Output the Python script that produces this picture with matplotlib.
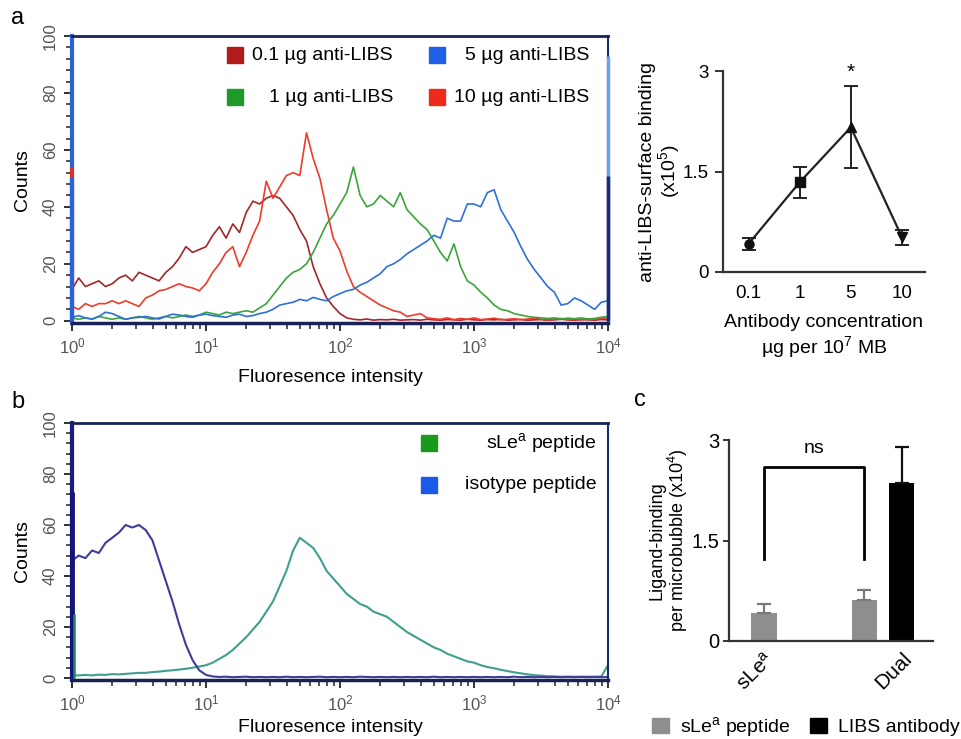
import numpy as np
import matplotlib
matplotlib.use("Agg")
import matplotlib.pyplot as plt
from matplotlib.patches import Patch
from matplotlib.ticker import MultipleLocator, LogLocator, NullFormatter

plt.rcParams["font.family"] = ["Liberation Sans", "DejaVu Sans"]
plt.rcParams["mathtext.fontset"] = "custom"
plt.rcParams["mathtext.rm"] = "Liberation Sans"
plt.rcParams["mathtext.it"] = "Liberation Sans"

# histogram channels, in decades (10^0 .. 10^4)
decades = np.round(np.arange(0, 4.0001, 0.05), 2)

# panel a: counts per channel
a_01ug = [11, 15, 12, 13, 14, 12, 13, 15, 16, 14,
          17, 16, 15, 14, 17, 19, 22, 26, 24, 25,
          26, 30, 33, 29, 34, 31, 38, 42, 41, 43,
          44, 43, 40, 37, 32, 28, 19, 13, 8, 5,
          2.5, 1, 0.5, 0.3, 0.6, 0.2, 0.4, 0.3, 0.5, 0.2,
          0.3, 0.4, 0.2, 0.5, 0.3, 0.2, 0.4, 0.3, 0.2, 0.5,
          0.3, 0.2, 0.4, 0.3, 0.5, 0.2, 0.3, 0.4, 0.2, 0.3,
          0.4, 0.2, 0.3, 0.5, 0.3, 0.2, 0.4, 0.3, 0.2, 0.4,
          0.3]
a_10ug = [5, 4, 6, 5, 6, 6, 7, 6, 7, 6,
          5, 8, 9, 10.5, 11, 12, 13, 12, 11.5, 10.5,
          13, 17, 20, 24, 26, 19, 24, 30, 35, 49,
          43, 47, 51, 52, 51, 66, 57, 50, 39, 29,
          24.5, 17.5, 12, 10, 8.5, 7, 5.5, 4.5, 3.5, 3,
          1.5, 2, 2.5, 1, 0.7, 0.5, 1, 0.4, 0.8, 0.5,
          1, 0.4, 0.6, 0.9, 0.3, 0.5, 0.7, 0.4, 0.6, 1,
          0.5, 0.3, 0.6, 0.8, 0.4, 0.5, 0.3, 0.7, 0.5, 0.8,
          1]
a_1ug = [1, 0.5, 1, 0.5, 1.5, 1, 0.5, 1, 0.5, 1,
         1.5, 1, 0.5, 1, 1.5, 1, 1.5, 2, 1.5, 2,
         3, 2.5, 2, 3, 2.5, 3, 3.5, 3, 4.5, 6,
         9, 12, 15, 17, 18, 20, 24, 29, 34, 37,
         41, 45, 54, 44, 40, 41, 44, 42, 40, 45,
         39, 36.5, 34, 32, 28, 24, 21, 27, 19, 14,
         12.5, 10, 8, 5.5, 4, 3.5, 2.5, 2, 1.5, 1.2,
         1, 0.8, 1, 0.6, 0.9, 0.7, 1, 0.6, 0.8, 1.2,
         1.5]
a_5ug = [1.2, 1.8, 1, 0.6, 1.5, 3, 2.5, 1.5, 0.5, 1,
         1.2, 1.5, 1, 0.6, 1.5, 2.3, 2, 1.5, 1.2, 2,
         2.3, 1.8, 1.5, 1.2, 2, 2.3, 1.5, 1.8, 2.5, 3,
         4, 5.5, 6, 6.5, 7.5, 7, 8.2, 7.5, 7, 8.5,
         9.5, 10.5, 11, 12.5, 13.5, 15, 16.5, 19, 20, 21.5,
         23.5, 25, 26.5, 28, 30, 29, 36, 35, 35, 41,
         41, 40, 45, 46, 39, 35, 31, 26, 21.5, 18,
         15, 12, 10, 5.5, 6, 8, 7, 5.5, 4, 6.5,
         7]

# panel b: counts per channel
b_isotype = [46, 48, 47, 50, 49, 53, 55, 57, 60, 59,
             60, 58, 54, 46, 38, 30, 21, 13, 7, 3,
             1.2, 0.6, 0.4, 0.5, 0.3, 0.4, 0.5, 0.3, 0.4, 0.3,
             0.4, 0.3, 0.5, 0.3, 0.4, 0.3, 0.4, 0.5, 0.3, 0.4,
             0.3, 0.4, 0.3, 0.5, 0.4, 0.3, 0.4, 0.3, 0.4, 0.3,
             0.4, 0.3, 0.4, 0.3, 0.5, 0.3, 0.4, 0.3, 0.4, 0.3,
             0.4, 0.3, 0.4, 0.3, 0.4, 0.3, 0.5, 0.3, 0.4, 0.3,
             0.4, 0.3, 0.4, 0.3, 0.4, 0.3, 0.4, 0.3, 0.4, 0.3,
             0.4]
b_slea = [1.0, 1.0, 1.2, 1.0, 1.3, 1.2, 1.5, 1.4, 1.6, 1.8,
          2.0, 2.0, 2.3, 2.5, 2.8, 3.0, 3.3, 3.6, 4.0, 4.5,
          5.0, 6.0, 7.5, 9.0, 11, 13.5, 16, 19, 22, 26,
          30, 36, 42, 50, 55, 53, 51, 47, 42, 39,
          36, 33, 31, 29, 28, 26, 25, 24, 22, 20,
          18, 16.5, 15, 13.5, 12, 11, 9.5, 8.5, 7.5, 6.5,
          6, 5, 4.3, 3.8, 3.2, 2.7, 2.2, 1.8, 1.4, 1.1,
          0.9, 0.7, 0.6, 0.5, 0.5, 0.5, 0.5, 0.5, 0.5, 0.6,
          5]

# overflow bins drawn on the axis edges
a_first_bin = {"10ug": 54, "5ug": 50}
a_last_bin_5ug = 93
b_first_bin = {"isotype": 73, "slea": 25}

# panel a, right: binding vs concentration
conc_labels = ["0.1", "1", "5", "10"]
binding = [0.42, 1.34, 2.16, 0.52]
binding_err = [0.09, 0.23, 0.61, 0.11]
binding_markers = ["o", "s", "^", "v"]

# panel c
groups = ["sLe$^a$", "Dual"]
slea_binding = [0.42, 0.61]
slea_err = [0.13, 0.15]
libs_binding = [np.nan, 2.36]
libs_err = [0.0, 0.54]
bracket_top = 2.59
bracket_base = 1.22

W, H = 962, 739
fig = plt.figure(figsize=(W / 100, H / 100), dpi=100)


def box(l, t, r, b):
    return [l / W, 1 - b / H, (r - l) / W, (b - t) / H]


def style_hist(ax, left_color):
    ax.set_xscale("log")
    ax.set_xlim(1, 1e4)
    ax.set_ylim(-0.8, 100)
    ax.yaxis.set_major_locator(MultipleLocator(20))
    ax.yaxis.set_minor_locator(MultipleLocator(4))
    ax.xaxis.set_major_locator(LogLocator(base=10, numticks=10))
    ax.xaxis.set_minor_locator(LogLocator(base=10, subs=np.arange(2, 10), numticks=10))
    ax.xaxis.set_minor_formatter(NullFormatter())
    ax.tick_params(axis="both", which="major", direction="out", length=6, width=1.3,
                   labelsize=12, labelcolor="#555555", color="#222222", pad=4)
    ax.tick_params(axis="both", which="minor", direction="out", length=4, width=1.1,
                   color="#222222")
    for lab in ax.get_yticklabels():
        lab.set_rotation(90)
        lab.set_va("center")
    ax.spines["top"].set_color("#1a2255")
    ax.spines["top"].set_linewidth(2)
    ax.spines["bottom"].set_color("#1a2255")
    ax.spines["bottom"].set_linewidth(2.5)
    ax.spines["right"].set_color("#1a2a6a")
    ax.spines["right"].set_linewidth(1.5)
    ax.spines["left"].set_color(left_color)
    ax.spines["left"].set_linewidth(3)


x = 10 ** decades

# ---- panel a histogram
ax_a = fig.add_axes(box(72, 36, 608, 323))
style_hist(ax_a, "#2a62d8")
ax_a.plot(x, a_01ug, color="#a3262a", lw=1.2)
ax_a.plot(x, a_10ug, color="#ee3b2b", lw=1.2)
ax_a.plot(x, a_1ug, color="#3aa53a", lw=1.2)
ax_a.plot(x, a_5ug, color="#2e6fd8", lw=1.2)
ax_a.vlines(1, 0, a_first_bin["10ug"], color="#e0302a", lw=3, clip_on=False, zorder=5)
ax_a.vlines(1, 0, a_first_bin["5ug"], color="#2a62d8", lw=3, clip_on=False, zorder=6)
ax_a.vlines(1e4, 0, a_last_bin_5ug, color="#6aa2ee", lw=2.5, clip_on=False, zorder=5)
ax_a.vlines(1e4, 0, 51, color="#1a2a6a", lw=2.5, clip_on=False, zorder=6)

legend_a = [("0.1 µg anti-LIBS", "#b01c1c", 0.304, 0.599, 0.933),
            ("5 µg anti-LIBS", "#1f5fe8", 0.681, 0.965, 0.933),
            ("1 µg anti-LIBS", "#1f9a2a", 0.304, 0.599, 0.786),
            ("10 µg anti-LIBS", "#ee2a1a", 0.681, 0.965, 0.786)]
for label, color, xs, xt, yy in legend_a:
    ax_a.plot(xs, yy, marker="s", ms=12, color=color, transform=ax_a.transAxes)
    ax_a.text(xt, yy, label, transform=ax_a.transAxes, ha="right", va="center",
              fontsize=14)

# ---- panel b histogram
ax_b = fig.add_axes(box(72, 423, 608, 680))
style_hist(ax_b, "#1a1a80")
ax_b.plot(x, b_slea, color="#3f9f8f", lw=1.5)
ax_b.plot(x, b_isotype, color="#3d3d99", lw=1.5)
ax_b.vlines(1, 0, b_first_bin["isotype"], color="#14147a", lw=3.5, clip_on=False, zorder=5)
ax_b.vlines(1.03, 0, b_first_bin["slea"], color="#1a8a5a", lw=1.8, clip_on=False, zorder=6)

legend_b = [("sLe$^a$ peptide", "#1a9a1a", 0.921), ("isotype peptide", "#1a5ae8", 0.76)]
for label, color, yy in legend_b:
    ax_b.plot(0.666, yy, marker="s", ms=12, color=color, transform=ax_b.transAxes)
    ax_b.text(0.978, yy, label, transform=ax_b.transAxes, ha="right", va="center",
              fontsize=14)

for ymid, ylab in [(180, 378), (551, 728)]:
    fig.text(22 / W, 1 - ymid / H, "Counts", rotation=90, ha="center", va="center",
             fontsize=14)
    fig.text(330 / W, 1 - ylab / H, "Fluoresence intensity", ha="center", va="center",
             fontsize=14)

fig.text(18 / W, 1 - 18 / H, "a", fontsize=17, ha="center", va="center")
fig.text(18 / W, 1 - 402 / H, "b", fontsize=17, ha="center", va="center")
fig.text(640 / W, 1 - 400 / H, "c", fontsize=17, ha="center", va="center")

# ---- panel a, binding curve
ax_l = fig.add_axes(box(723, 71, 925, 272))
pos = np.arange(len(conc_labels))
ax_l.errorbar(pos, binding, yerr=binding_err, fmt="none", ecolor="#222222",
              elinewidth=1.4, capsize=5, capthick=1.4)
ax_l.plot(pos, binding, color="#222222", lw=1.6)
for p, v, m in zip(pos, binding, binding_markers):
    ax_l.plot(p, v, marker=m, ms=6.5, color="#111111", ls="none")
ax_l.text(pos[2], binding[2] + binding_err[2] + 0.07, "*", ha="center", va="bottom",
          fontsize=15)
ax_l.set_xlim(-0.5, 3.45)
ax_l.set_ylim(0, 3)
ax_l.set_xticks(pos)
ax_l.set_xticklabels(conc_labels)
ax_l.set_yticks([0, 1.5, 3])
ax_l.set_yticklabels(["0", "1.5", "3"])
ax_l.tick_params(axis="x", length=0, labelsize=13.5, pad=9)
ax_l.tick_params(axis="y", length=6, width=1.4, labelsize=13.5, color="#333333", pad=4)
for s in ["top", "right"]:
    ax_l.spines[s].set_visible(False)
for s in ["left", "bottom"]:
    ax_l.spines[s].set_linewidth(1.6)
    ax_l.spines[s].set_color("#333333")
ax_l.set_ylabel("anti-LIBS-surface binding\n(x10$^5$)", fontsize=14, linespacing=1.0,
                labelpad=1)
ax_l.set_xlabel("Antibody concentration\nµg per 10$^7$ MB", fontsize=14,
                linespacing=1.15, labelpad=9)

# ---- panel c, bars
ax_c = fig.add_axes(box(729, 440, 933, 641))
gpos = np.arange(len(groups))
bar_w = 0.25
off = 0.185
ax_c.bar(gpos - off, slea_binding, width=bar_w, color="#8e8e8e")
ax_c.errorbar(gpos - off, slea_binding, yerr=[np.zeros(len(groups)), slea_err], fmt="none",
              ecolor="#7a7a7a", elinewidth=1.6, capsize=5, capthick=1.6)
ax_c.bar(gpos + off, libs_binding, width=bar_w, color="#000000")
ax_c.errorbar(gpos[1:] + off, libs_binding[1:], yerr=[[0], libs_err[1:]], fmt="none",
              ecolor="#111111", elinewidth=1.6, capsize=5, capthick=1.6)
bx = gpos - off
ax_c.plot([bx[0], bx[0], bx[1], bx[1]], [bracket_base, bracket_top, bracket_top, bracket_base],
          color="#000000", lw=2)
ax_c.text(bx.mean(), bracket_top + 0.16, "ns", ha="center", va="bottom", fontsize=14)
ax_c.set_xlim(-0.533, 1.497)
ax_c.set_ylim(0, 3)
ax_c.set_yticks([0, 1.5, 3])
ax_c.set_yticklabels(["0", "1.5", "3"])
# labels sit under the last bar of each group
label_pos = [gpos[0] - off, gpos[1] + off]
ax_c.set_xticks(label_pos)
ax_c.set_xticklabels(groups, rotation=45, ha="right", va="top", rotation_mode="anchor")
ax_c.tick_params(axis="x", length=0, labelsize=15, pad=6)
ax_c.tick_params(axis="y", length=4, width=1.4, labelsize=14.5, color="#333333", pad=3)
for s in ["top", "right"]:
    ax_c.spines[s].set_visible(False)
for s in ["left", "bottom"]:
    ax_c.spines[s].set_linewidth(1.6)
    ax_c.spines[s].set_color("#333333")
ax_c.set_ylabel("Ligand-binding\nper microbubble (x10$^4$)", fontsize=13, linespacing=1.0,
                labelpad=1)

handles = [Patch(color="#8e8e8e"), Patch(color="#000000")]
fig.legend(handles, ["sLe$^a$ peptide", "LIBS antibody"], loc="center",
           bbox_to_anchor=(806 / W, 1 - 727 / H), ncol=2, frameon=False, fontsize=14,
           handlelength=0.85, handleheight=0.85, handletextpad=0.6, columnspacing=1.0,
           borderaxespad=0, borderpad=0)

fig.savefig("out.png", dpi=100)
